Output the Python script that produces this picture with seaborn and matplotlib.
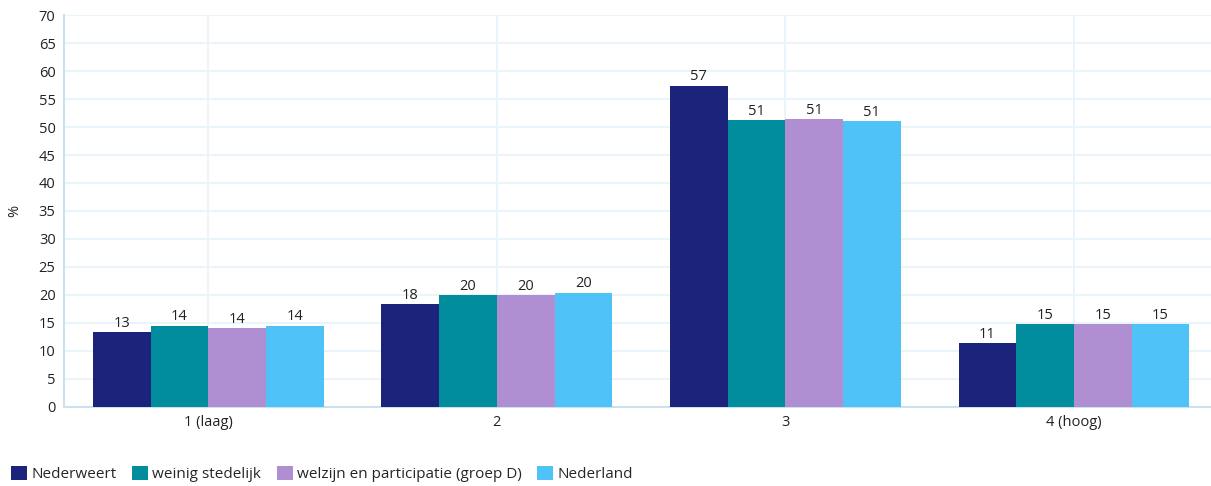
import matplotlib
matplotlib.use("Agg")
import matplotlib.pyplot as plt
import seaborn as sns
import pandas as pd
from matplotlib.patches import Patch

categories = ["1 (laag)", "2", "3", "4 (hoog)"]
series = ["Nederweert", "weinig stedelijk", "welzijn en participatie (groep D)", "Nederland"]
nederweert = [13.4, 18.4, 57.4, 11.4]
weinig_stedelijk = [14.5, 20.0, 51.2, 14.8]
welzijn = [14.1, 20.0, 51.4, 14.8]
nederland = [14.5, 20.4, 51.0, 14.8]
colors = ["#1b237b", "#018d9e", "#b08ed2", "#4fc3f7"]

rows = []
for name, vals in zip(series, [nederweert, weinig_stedelijk, welzijn, nederland]):
    for c, v in zip(categories, vals):
        rows.append({"cat": c, "serie": name, "val": v})
df = pd.DataFrame(rows)

sns.set_theme(style="white")
plt.rcParams["font.family"] = ["Open Sans", "DejaVu Sans"]

fig = plt.figure(figsize=(12.11, 4.86), dpi=100)
ax = fig.add_axes([0.0528, 0.1626, 0.9472, 0.8065])

sns.barplot(data=df, x="cat", y="val", hue="serie", hue_order=series,
            order=categories, palette=colors, width=0.8, saturation=1,
            ax=ax, legend=False, linewidth=0, zorder=3)

for cont in ax.containers:
    ax.bar_label(cont, labels=[f"{round(b.get_height()):d}" for b in cont],
                 padding=1, fontsize=10.5, color="#222222", zorder=4)

ax.set_ylim(0, 70)
ax.set_xlim(-0.5, 3.475)
ax.set_yticks(range(0, 71, 5))
ax.grid(True, axis="both", color="#e6f4fb", linewidth=1.2, zorder=0)
ax.set_axisbelow(True)
for s in ["top", "right"]:
    ax.spines[s].set_visible(False)
for s in ["left", "bottom"]:
    ax.spines[s].set_color("#c9e3ee")
    ax.spines[s].set_linewidth(1.5)
ax.tick_params(axis="both", labelsize=10.5, colors="#222222", length=0, pad=6)
ax.set_xlabel("")
ax.set_ylabel("%", fontsize=10.5, color="#222222", labelpad=12)

handles = [Patch(facecolor=c, edgecolor="none") for c in colors]
fig.legend(handles, series, loc="lower left", bbox_to_anchor=(0.0, -0.014),
           ncol=4, frameon=False, fontsize=11, handlelength=1.05,
           handleheight=1.1, handletextpad=0.3, columnspacing=1.0,
           borderaxespad=0.3)

fig.savefig("out.png", dpi=100)
